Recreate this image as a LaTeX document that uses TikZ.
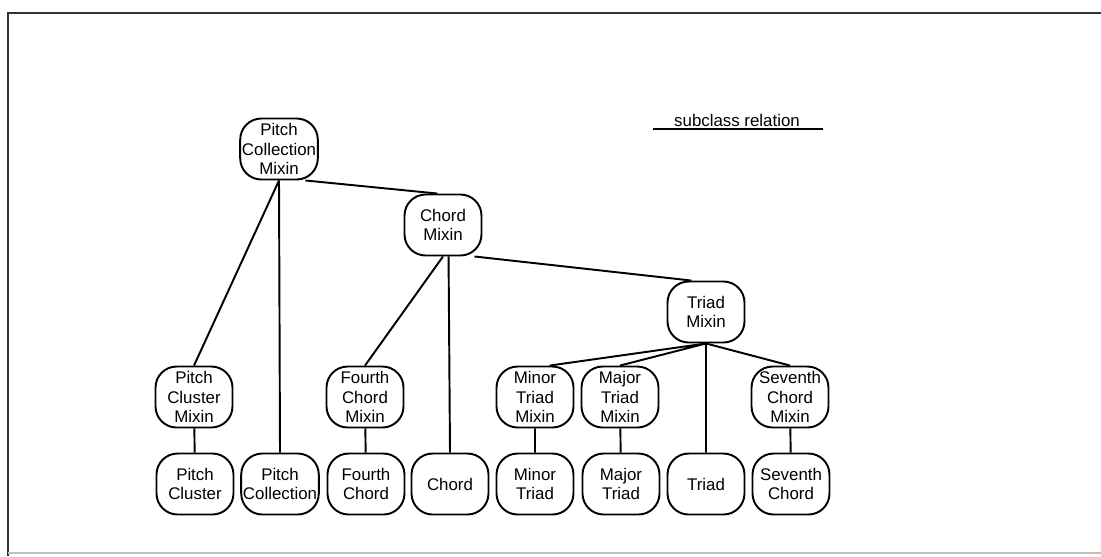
\documentclass[tikz,border=0pt]{standalone}
\usepackage{fontspec}
\setmainfont{Liberation Sans}
\usepackage{tikz}

\tikzset{
  cls/.style={draw, line width=1.1pt, rounded corners=12pt, align=center,
    minimum width=1.54cm, minimum height=1.22cm, inner sep=1pt,
    font=\fontsize{9.6}{11.2}\selectfont},
  rel/.style={line width=1.1pt}
}

\begin{document}
\begin{tikzpicture}[x=0.02cm, y=-0.02cm]
  \useasboundingbox (0,0) rectangle (1101,556);
  % cadre
  \draw[line width=1.4pt, black!80] (1101,13) -- (8,13) -- (8,556);
  \draw[line width=0.6pt, black!25] (8,553) -- (1101,553);
  % legende
  \node[font=\fontsize{9.6}{11.2}\selectfont, anchor=base] (leg) at (737,126) {subclass relation};
  \draw[line width=1pt] (653,129) -- (823,129);
  % classes mixin
  \node[cls] (pcm) at (279,149) {Pitch\\Collection\\Mixin};
  \node[cls] (cm) at (443,225) {Chord\\Mixin};
  \node[cls] (tm) at (706,312) {Triad\\Mixin};
  \node[cls] (pclm) at (194,397) {Pitch\\Cluster\\Mixin};
  \node[cls] (fcm) at (365,397) {Fourth\\Chord\\Mixin};
  \node[cls] (mitm) at (535,397) {Minor\\Triad\\Mixin};
  \node[cls] (matm) at (620,397) {Major\\Triad\\Mixin};
  \node[cls] (scm) at (790,397) {Seventh\\Chord\\Mixin};
  % classes
  \node[cls] (pcl) at (195,484) {Pitch\\Cluster};
  \node[cls] (pcol) at (280,484) {Pitch\\Collection};
  \node[cls] (fc) at (366,484) {Fourth\\Chord};
  \node[cls] (ch) at (450,484) {Chord};
  \node[cls] (mit) at (535,484) {Minor\\Triad};
  \node[cls] (mat) at (621,484) {Major\\Triad};
  \node[cls] (tr) at (706,484) {Triad};
  \node[cls] (sc) at (791,484) {Seventh\\Chord};
  % relations
  \draw[rel] (pcm.south) -- (pclm.north) (pcm.south) -- (pcol.north)
    (pcm.-50) -- (cm.100);
  \draw[rel] (cm.south) -- (fcm.north) (cm.-80) -- (ch.north)
    (cm.-45) -- (tm.115);
  \draw[rel] (tm.south) -- (mitm.65) (tm.south) -- (matm.north)
    (tm.south) -- (tr.north) (tm.south) -- (scm.north);
  \draw[rel] (pclm) -- (pcl) (fcm) -- (fc) (mitm) -- (mit)
    (matm) -- (mat) (scm) -- (sc);
\end{tikzpicture}
\end{document}
